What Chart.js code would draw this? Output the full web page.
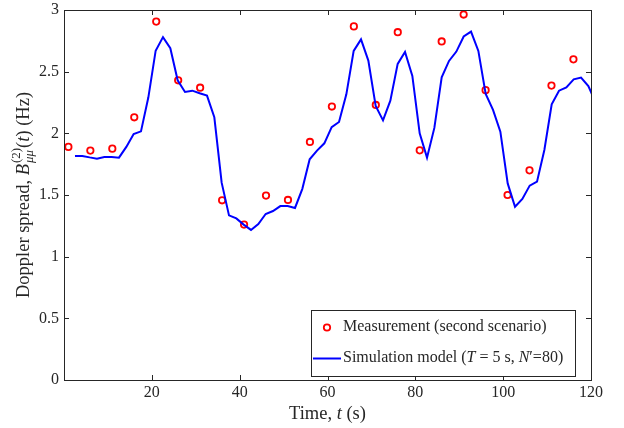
<!DOCTYPE html>
<html>
<head>
<meta charset="utf-8">
<script src="https://cdn.jsdelivr.net/npm/chart.js@4"></script>
<style>
  html, body { margin: 0; padding: 0; background: #fff; }
  #wrap { width: 624px; height: 428px; }
</style>
</head>
<body>
<div id="wrap"><canvas id="dopplerChart" width="624" height="428"></canvas></div>
<script>
// measurement points (second scenario), every 5 s
var measTime = [1, 6, 11, 16, 21, 26, 31, 36, 41, 46, 51, 56, 61, 66, 71, 76, 81, 86, 91, 96, 101, 106, 111, 116];
var measValue = [1.89, 1.86, 1.876, 2.13, 2.906, 2.43, 2.37, 1.457, 1.26, 1.495, 1.46, 1.93,
                 2.217, 2.867, 2.23, 2.82, 1.862, 2.745, 2.963, 2.35, 1.50, 1.70, 2.387, 2.60];

// simulation model curve
var simTime = [2.50, 4.17, 5.84, 7.51, 9.18, 10.85, 12.52, 14.19, 15.86, 17.53, 19.20, 20.87,
               22.54, 24.21, 25.88, 27.55, 29.22, 30.89, 32.56, 34.23, 35.90, 37.57, 39.24, 40.91,
               42.58, 44.25, 45.92, 47.59, 49.26, 50.93, 52.60, 54.27, 55.94, 57.61, 59.28, 60.95,
               62.62, 64.29, 65.96, 67.63, 69.30, 70.97, 72.64, 74.31, 75.98, 77.65, 79.32, 80.99,
               82.66, 84.33, 86.00, 87.67, 89.34, 91.01, 92.68, 94.35, 96.02, 97.69, 99.36, 101.03,
               102.70, 104.37, 106.04, 107.71, 109.38, 111.05, 112.72, 114.39, 116.06, 117.73, 119.40, 121.07];
var simValue = [1.817, 1.817, 1.805, 1.795, 1.808, 1.808, 1.803, 1.89, 1.995, 2.016, 2.29, 2.67,
                2.78, 2.69, 2.43, 2.335, 2.346, 2.325, 2.306, 2.13, 1.60, 1.335, 1.31, 1.26,
                1.217, 1.265, 1.346, 1.37, 1.41, 1.41, 1.395, 1.55, 1.79, 1.86, 1.919, 2.05,
                2.092, 2.316, 2.668, 2.762, 2.59, 2.222, 2.105, 2.265, 2.563, 2.66, 2.465, 2.0,
                1.803, 2.044, 2.454, 2.587, 2.663, 2.785, 2.825, 2.668, 2.32, 2.19, 2.013, 1.594,
                1.405, 1.468, 1.576, 1.608, 1.865, 2.236, 2.346, 2.373, 2.438, 2.452, 2.384, 2.25];

var xTicks = [20, 40, 60, 80, 100, 120];
var yTicks = [0, 0.5, 1, 1.5, 2, 2.5, 3];
var yTickLabels = ['0', '0.5', '1', '1.5', '2', '2.5', '3'];

var measPoints = measTime.map(function(t, i) { return { x: t, y: measValue[i] }; });
var simPoints = simTime.map(function(t, i) { return { x: t, y: simValue[i] }; });

var SERIF = '"Liberation Serif", "DejaVu Serif", serif';
var INK = '#262626';

// draw a row of text pieces, some italic, some as stacked sup/sub
function pieceWidth(ctx, p, size) {
  if (p.sup !== undefined) {
    ctx.font = (size * 0.7) + 'px ' + SERIF;
    var a = ctx.measureText(p.sup).width;
    ctx.font = 'italic ' + (size * 0.7) + 'px ' + SERIF;
    var b = ctx.measureText(p.sub).width;
    return Math.max(a, b) + 1;
  }
  ctx.font = (p.italic ? 'italic ' : '') + size + 'px ' + SERIF;
  return ctx.measureText(p.text).width;
}

function drawPieces(ctx, pieces, x, y, size, align) {
  var total = 0;
  pieces.forEach(function(p) { total += pieceWidth(ctx, p, size); });
  var cx = align === 'center' ? x - total / 2 : x;
  ctx.textBaseline = 'middle';
  ctx.textAlign = 'left';
  pieces.forEach(function(p) {
    var w = pieceWidth(ctx, p, size);
    if (p.sup !== undefined) {
      ctx.font = (size * 0.7) + 'px ' + SERIF;
      ctx.fillText(p.sup, cx + 1, y - size * 0.42);
      ctx.font = 'italic ' + (size * 0.7) + 'px ' + SERIF;
      ctx.fillText(p.sub, cx + 1, y + size * 0.3);
    } else {
      ctx.font = (p.italic ? 'italic ' : '') + size + 'px ' + SERIF;
      ctx.fillText(p.text, cx, y);
    }
    cx += w;
  });
}

var axesPlugin = {
  id: 'matlabAxes',
  afterDatasetsDraw: function(chart) {
    var ctx = chart.ctx;
    var area = chart.chartArea;
    var xs = chart.scales.x, ys = chart.scales.y;
    ctx.save();
    ctx.strokeStyle = INK;
    ctx.lineWidth = 1;
    ctx.strokeRect(Math.round(area.left) + 0.5, Math.round(area.top) + 0.5,
                   Math.round(area.right - area.left), Math.round(area.bottom - area.top));
    ctx.beginPath();
    xTicks.forEach(function(v) {
      var px = Math.round(xs.getPixelForValue(v)) + 0.5;
      ctx.moveTo(px, area.bottom); ctx.lineTo(px, area.bottom - 5);
      ctx.moveTo(px, area.top); ctx.lineTo(px, area.top + 5);
    });
    yTicks.forEach(function(v) {
      var py = Math.round(ys.getPixelForValue(v)) + 0.5;
      ctx.moveTo(area.left, py); ctx.lineTo(area.left + 5, py);
      ctx.moveTo(area.right, py); ctx.lineTo(area.right - 5, py);
    });
    ctx.stroke();

    ctx.fillStyle = INK;
    ctx.font = '16px ' + SERIF;
    ctx.textBaseline = 'middle';
    ctx.textAlign = 'center';
    xTicks.forEach(function(v) {
      ctx.fillText(String(v), xs.getPixelForValue(v), area.bottom + 13);
    });
    ctx.textAlign = 'right';
    yTicks.forEach(function(v, i) {
      ctx.fillText(yTickLabels[i], area.left - 5, ys.getPixelForValue(v));
    });

    // axis titles
    drawPieces(ctx, [{ text: 'Time, ' }, { text: 't', italic: true }, { text: ' (s)' }],
               (area.left + area.right) / 2, area.bottom + 34, 18.5, 'center');
    ctx.save();
    ctx.translate(24, (area.top + area.bottom) / 2);
    ctx.rotate(-Math.PI / 2);
    drawPieces(ctx, [{ text: 'Doppler spread, ' }, { text: 'B', italic: true },
                     { sup: '(2)', sub: 'μμ' }, { text: '(' }, { text: 't', italic: true },
                     { text: ') (Hz)' }], 0, 0, 18.5, 'center');
    ctx.restore();

    // legend
    var lx = 311, ly = 310, lw = 264, lh = 66;
    ctx.fillStyle = '#fff';
    ctx.fillRect(lx, ly, lw, lh);
    ctx.strokeStyle = INK;
    ctx.strokeRect(lx + 0.5, ly + 0.5, lw, lh);
    ctx.strokeStyle = '#ff0000';
    ctx.lineWidth = 1.8;
    ctx.beginPath();
    ctx.arc(327, 327.5, 3.2, 0, Math.PI * 2);
    ctx.stroke();
    ctx.strokeStyle = '#0000ff';
    ctx.lineWidth = 2;
    ctx.beginPath();
    ctx.moveTo(313, 358.5); ctx.lineTo(341, 358.5);
    ctx.stroke();
    ctx.fillStyle = INK;
    drawPieces(ctx, [{ text: 'Measurement (second scenario)' }], 343, 327, 16, 'left');
    drawPieces(ctx, [{ text: 'Simulation model (' }, { text: 'T', italic: true },
                     { text: ' = 5 s, ' }, { text: 'N', italic: true }, { text: '′=80)' }],
               343, 358, 16, 'left');
    ctx.restore();
  }
};

new Chart(document.getElementById('dopplerChart').getContext('2d'), {
  type: 'scatter',
  data: {
    datasets: [{
      label: 'Simulation model',
      data: simPoints,
      showLine: true,
      borderColor: '#0000ff',
      borderWidth: 2,
      pointRadius: 0,
      tension: 0,
      fill: false
    }, {
      label: 'Measurement (second scenario)',
      data: measPoints,
      showLine: false,
      pointStyle: 'circle',
      pointRadius: 3.2,
      borderColor: '#ff0000',
      backgroundColor: 'rgba(0,0,0,0)',
      pointBorderWidth: 1.8
    }]
  },
  options: {
    responsive: false,
    animation: false,
    layout: { padding: { left: 64, top: 10, right: 33, bottom: 48 } },
    plugins: { legend: { display: false }, tooltip: { enabled: false } },
    scales: {
      x: { type: 'linear', min: 0, max: 120, display: false },
      y: { type: 'linear', min: 0, max: 3, display: false }
    }
  },
  plugins: [axesPlugin]
});
</script>
</body>
</html>
